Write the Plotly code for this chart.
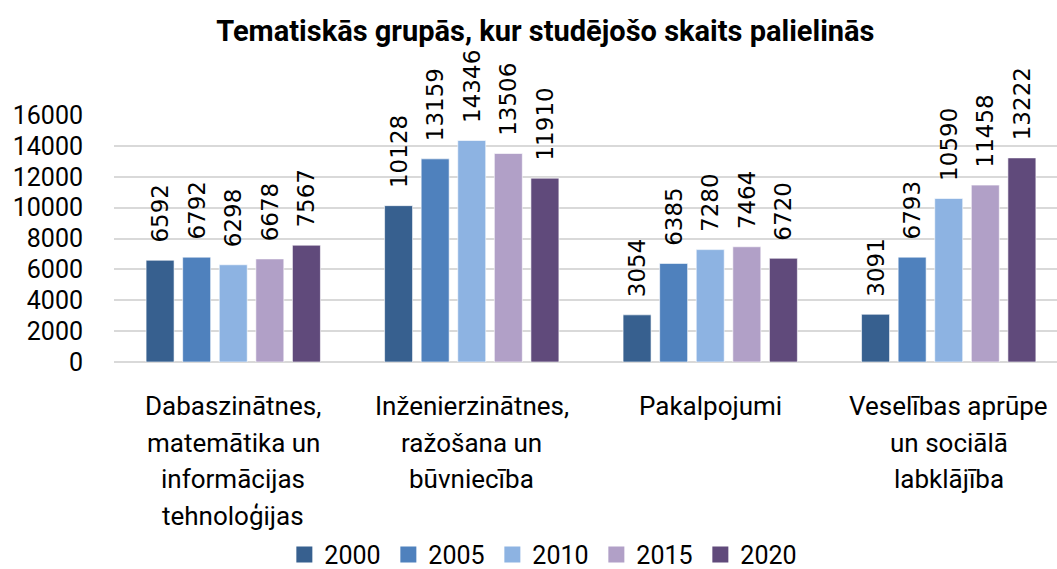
import plotly.graph_objects as go

category_lines = [
    ["Dabaszinātnes,", "matemātika un", "informācijas", "tehnoloģijas"],
    ["Inženierzinātnes,", "ražošana un", "būvniecība"],
    ["Pakalpojumi"],
    ["Veselības aprūpe", "un sociālā", "labklājība"],
]
categories = [" ".join(lines) for lines in category_lines]
years = ["2000", "2005", "2010", "2015", "2020"]
values_2000 = [6592, 10128, 3054, 3091]
values_2005 = [6792, 13159, 6385, 6793]
values_2010 = [6298, 14346, 7280, 10590]
values_2015 = [6678, 13506, 7464, 11458]
values_2020 = [7567, 11910, 6720, 13222]
series = [values_2000, values_2005, values_2010, values_2015, values_2020]
colors = ["#37608F", "#4F81BD", "#8DB3E2", "#B1A0C7", "#604A7B"]
y_ticks = [0, 2000, 4000, 6000, 8000, 10000, 12000, 14000, 16000]

FONT = "Roboto"

fig = go.Figure()
for year, vals, col in zip(years, series, colors):
    fig.add_trace(go.Bar(
        name=year,
        x=categories,
        y=vals,
        text=[str(v) for v in vals],
        texttemplate="\u00a0\u00a0%{text}",
        textposition="outside",
        textangle=-90,
        constraintext="none",
        cliponaxis=False,
        textfont=dict(family="DejaVu Sans", size=23, color="#000000"),
        marker=dict(color=col, line=dict(color="rgba(255,255,255,0.6)", width=1)),
        showlegend=False,
    ))
    # legend entry with a larger square swatch
    fig.add_trace(go.Scatter(
        name=year,
        x=[None], y=[None],
        mode="markers",
        marker=dict(symbol="square", size=16, color=col),
        showlegend=True,
    ))

# multi-line category labels below the axis
for cat, lines in zip(categories, category_lines):
    for i, line in enumerate(lines):
        fig.add_annotation(
            x=cat, xref="x",
            y=0, yref="paper",
            yanchor="middle",
            yshift=-44 - 36.5 * i,
            text=line,
            showarrow=False,
            font=dict(family=FONT, size=26, color="#000000"),
        )

fig.update_layout(
    width=1057,
    height=569,
    barmode="group",
    bargap=0.233,
    bargroupgap=0.235,
    plot_bgcolor="white",
    paper_bgcolor="white",
    margin=dict(l=114, r=0, t=115, b=207, autoexpand=False),
    title=dict(
        text="<b>Tematiskās grupās, kur studējošo skaits palielinās</b>",
        x=0.516, xanchor="center", xref="container",
        y=0.945, yanchor="middle", yref="container",
        font=dict(family=FONT, size=29, color="#000000"),
    ),
    legend=dict(
        orientation="h",
        x=0.515, xanchor="center", xref="container",
        y=0.025, yanchor="middle", yref="container",
        font=dict(family=FONT, size=25, color="#000000"),
        entrywidth=59,
        entrywidthmode="pixels",
        itemwidth=30,
        traceorder="normal",
    ),
    showlegend=True,
)

fig.update_xaxes(
    type="category",
    range=[-0.5, 3.454],
    showgrid=False,
    showline=False,
    ticks="",
    showticklabels=False,
    automargin=False,
    fixedrange=True,
)
fig.update_yaxes(
    range=[0, 16000],
    tickvals=y_ticks,
    ticktext=[str(v) for v in y_ticks],
    showgrid=True,
    gridcolor="#D9D9D9",
    gridwidth=1.5,
    zeroline=True,
    zerolinecolor="#D9D9D9",
    zerolinewidth=1.5,
    showline=False,
    ticks="",
    ticklabelstandoff=30,
    automargin=False,
    tickfont=dict(family=FONT, size=25, color="#000000"),
)

fig.write_html("out.html")
